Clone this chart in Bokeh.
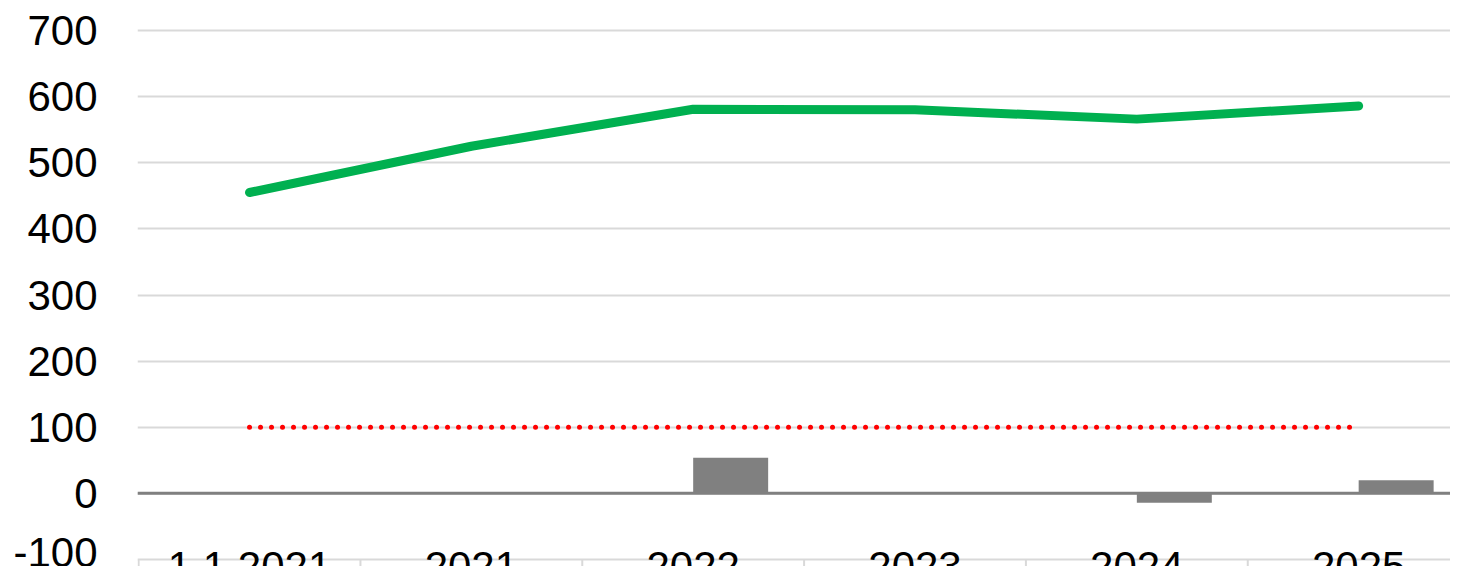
from bokeh.plotting import figure
from bokeh.models import Range1d, SingleIntervalTicker, Span, CustomJSTickFormatter
from bokeh.core.properties import value
from bokeh.embed import file_html
from bokeh.resources import INLINE

categories = ["1.1.2021", "2021", "2022", "2023", "2024", "2025"]
total = [455, 525, 581, 580, 566, 586]
change = [0, 0, 54, 0, -14, 20]
other = [0, 1.5, 0, 0, 0, 0]
threshold = [100, 100, 100, 100, 100, 100]
y_ticks_interval = 100

idx = list(range(len(categories)))
bar_w = 0.338
bar_x = [i + bar_w / 2 for i in idx]
bounds = [i - 0.5 for i in range(len(categories) + 1)]

FONT = "Liberation Sans"

p = figure(width=1450, height=566, output_backend="svg", toolbar_location=None,
           x_range=Range1d(-0.505, 5.414), y_range=Range1d(-110.6, 745.4),
           min_border_left=137, min_border_right=0, min_border_top=0, min_border_bottom=0)
p.outline_line_color = None
p.xaxis.visible = False
p.xgrid.visible = False
p.background_fill_color = "white"

ax = p.yaxis[0]
ax.ticker = SingleIntervalTicker(interval=y_ticks_interval)
ax.formatter = CustomJSTickFormatter(code="return String(tick);")
ax.axis_line_color = None
ax.major_tick_line_color = None
ax.minor_tick_line_color = None
ax.major_tick_out = 0
ax.major_tick_in = 0
ax.minor_tick_out = 0
ax.major_label_standoff = 40
ax.major_label_text_font = FONT
ax.major_label_text_font_size = "42px"
ax.major_label_text_color = "black"

p.ygrid.ticker = SingleIntervalTicker(interval=y_ticks_interval)
p.ygrid.grid_line_color = "#d9d9d9"
p.ygrid.grid_line_width = 2

# bars
p.vbar(x=bar_x, top=other, bottom=0, width=bar_w, fill_color="#5B9BD5", line_color=None)
p.vbar(x=bar_x, top=change, bottom=0, width=bar_w, fill_color="#808080", line_color=None)

# zero axis line
p.add_layout(Span(location=0, dimension="width", line_color="#808080", line_width=3))

# threshold dotted line
p.line(x=idx, y=threshold, line_color="#FF0000", line_width=5, line_dash="0 11", line_cap="round")

# total line
p.line(x=idx, y=total, line_color="#00B050", line_width=9, line_cap="round", line_join="round")

# category separators and labels
p.segment(x0=bounds, y0=[-100] * len(bounds), x1=bounds, y1=[-140] * len(bounds),
          line_color="#d9d9d9", line_width=2)
p.text(x=idx, y=[-100] * len(idx), text=categories, text_align="center", text_baseline="top",
       y_offset=-7, text_font=value(FONT), text_font_size="42px", text_color="black")

open("out.html", "w").write(file_html(p, INLINE))
